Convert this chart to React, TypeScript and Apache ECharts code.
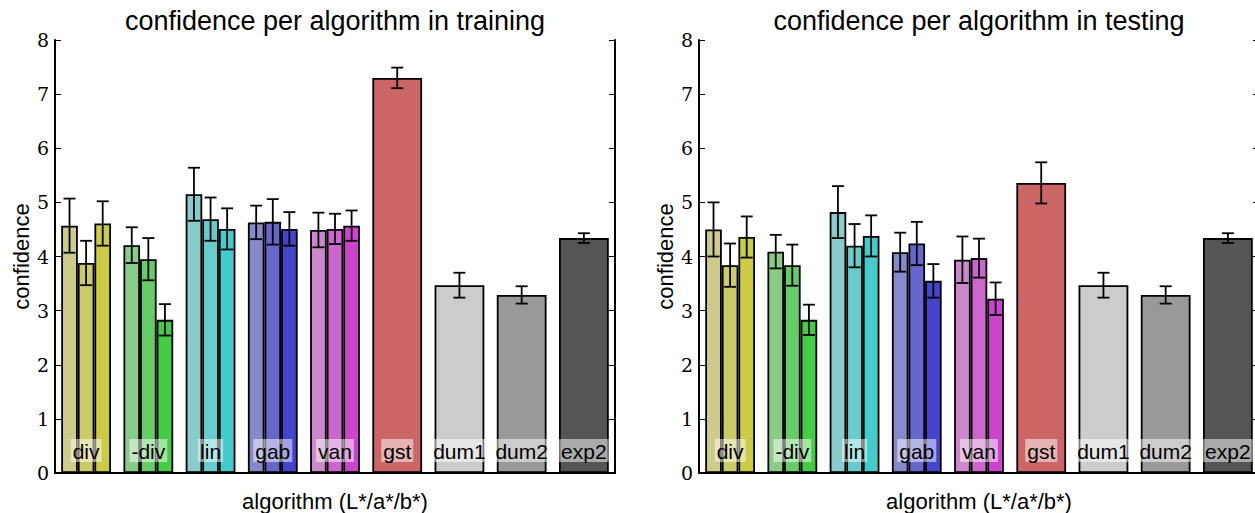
import React, { useEffect, useRef } from "react";
import * as echarts from "echarts";

const categories = ["div", "-div", "lin", "gab", "van", "gst", "dum1", "dum2", "exp2"];
const panelTitles = ["confidence per algorithm in training", "confidence per algorithm in testing"];
const xAxisTitle = "algorithm (L*/a*/b*)";
const yAxisTitle = "confidence";

// training: three shades (L*, a*, b*) for the first five algorithms
const trainFirst = [4.57, 4.21, 5.15, 4.63, 4.49];
const trainSecond = [3.88, 3.95, 4.69, 4.64, 4.51];
const trainThird = [4.61, 2.83, 4.51, 4.51, 4.57];
const trainSingle = [7.3, 3.47, 3.29, 4.34];
const trainFirstErr = [0.5, 0.33, 0.49, 0.31, 0.32];
const trainSecondErr = [0.41, 0.39, 0.4, 0.42, 0.28];
const trainThirdErr = [0.41, 0.29, 0.38, 0.31, 0.28];
const trainSingleErr = [0.19, 0.23, 0.16, 0.09];

// testing
const testFirst = [4.5, 4.09, 4.82, 4.08, 3.94];
const testSecond = [3.84, 3.84, 4.2, 4.24, 3.97];
const testThird = [4.36, 2.83, 4.38, 3.55, 3.22];
const testSingle = [5.36, 3.47, 3.29, 4.34];
const testFirstErr = [0.5, 0.31, 0.48, 0.36, 0.43];
const testSecondErr = [0.4, 0.38, 0.4, 0.4, 0.36];
const testThirdErr = [0.38, 0.28, 0.38, 0.31, 0.3];
const testSingleErr = [0.38, 0.23, 0.16, 0.09];

const shadeColors = [
  ["#cccc88", "#88cc88", "#88cccc", "#8888cc", "#cc88cc"],
  ["#cccc66", "#66cc66", "#66cccc", "#6666cc", "#cc66cc"],
  ["#cccc44", "#44cc44", "#44cccc", "#4444cc", "#cc44cc"],
];
const singleColors = ["#cc6666", "#cccccc", "#999999", "#555555"];

const renderErr = (params: any, api: any) => {
  const cat = api.value(0);
  const v = api.value(1);
  const e = api.value(2);
  const s = api.value(3);
  const n = api.value(4);
  const band = api.size([1, 0])[0];
  const c = api.coord([cat, v]);
  const bw = (band * 0.8) / n;
  const x = c[0] - band * 0.4 + bw * (s + 0.5);
  const yt = api.coord([cat, v + e])[1];
  const yb = api.coord([cat, v - e])[1];
  const cap = 6;
  const style = { stroke: "#000", lineWidth: 1.8 };
  return {
    type: "group",
    children: [
      { type: "line", shape: { x1: x, y1: yt, x2: x, y2: yb }, style },
      { type: "line", shape: { x1: x - cap, y1: yt, x2: x + cap, y2: yt }, style },
      { type: "line", shape: { x1: x - cap, y1: yb, x2: x + cap, y2: yb }, style },
    ],
  };
};

function panelSeries(p: number, groups: number[][], errs: number[][], single: number[], singleErr: number[]) {
  const xa = p * 2;
  const xb = p * 2 + 1;
  const ya = p * 2;
  const series: any[] = [];
  groups.forEach((vals, s) => {
    series.push({
      type: "bar",
      xAxisIndex: xa,
      yAxisIndex: ya,
      barGap: "0%",
      barCategoryGap: "20%",
      z: 2,
      itemStyle: { borderColor: "#000", borderWidth: 1.8 },
      data: categories.map((c, i) =>
        i < vals.length ? { value: vals[i], itemStyle: { color: shadeColors[s][i] } } : "-"
      ),
    });
  });
  const nGrouped = groups[0].length;
  series.push({
    type: "bar",
    xAxisIndex: xb,
    yAxisIndex: ya,
    barCategoryGap: "20%",
    z: 2,
    itemStyle: { borderColor: "#000", borderWidth: 1.8 },
    data: categories.map((c, i) =>
      i >= nGrouped ? { value: single[i - nGrouped], itemStyle: { color: singleColors[i - nGrouped] } } : "-"
    ),
  });
  const errData: number[][] = [];
  groups.forEach((vals, s) => vals.forEach((v, i) => errData.push([i, v, errs[s][i], s, groups.length])));
  single.forEach((v, k) => errData.push([k + nGrouped, v, singleErr[k], 0, 1]));
  series.push({
    type: "custom",
    xAxisIndex: xb,
    yAxisIndex: ya,
    z: 4,
    encode: { x: 0, y: 1 },
    renderItem: renderErr,
    data: errData,
  });
  return series;
}

const gridLefts = [55, 699];
const gridTop = 40;
const gridWidth = 560;
const gridHeight = 433;

export default function App() {
  const ref = useRef<HTMLDivElement>(null);
  useEffect(() => {
    if (!ref.current) return;
    const chart = echarts.init(ref.current, null, { renderer: "svg" });
    const black = "#000";
    const axisLine = { show: true, lineStyle: { color: black, width: 2 } };
    const option: any = {
      animation: false,
      backgroundColor: "#fff",
      grid: gridLefts.map((l) => ({
        left: l,
        top: gridTop,
        width: gridWidth,
        height: gridHeight,
        containLabel: false,
        outerBoundsMode: "none",
      })),
      xAxis: [0, 1].flatMap((p) => [
        {
          gridIndex: p,
          type: "category",
          data: categories,
          position: "bottom",
          z: 10,
          axisLine,
          axisTick: { show: false },
          axisLabel: {
            inside: true,
            interval: 0,
            margin: 11,
            fontFamily: "Liberation Sans",
            fontSize: 21,
            color: black,
            backgroundColor: "rgba(255,255,255,0.5)",
            padding: [1, 2, 0, 2],
            lineHeight: 22,
          },
          name: xAxisTitle,
          nameLocation: "middle",
          nameGap: 17,
          nameTextStyle: { fontFamily: "Liberation Sans", fontSize: 22, color: black },
        },
        {
          gridIndex: p,
          type: "category",
          data: categories,
          position: "top",
          z: 10,
          axisLine,
          axisTick: { show: false },
          axisLabel: { show: false },
        },
      ]),
      yAxis: [0, 1].flatMap((p) => [
        {
          gridIndex: p,
          type: "value",
          min: 0,
          max: 8,
          interval: 1,
          position: "left",
          z: 10,
          axisLine,
          axisTick: { show: true, inside: true, length: 6, lineStyle: { color: black, width: 1 } },
          axisLabel: { fontFamily: "DejaVu Serif", fontSize: 19, color: black, margin: 6 },
          splitLine: { show: false },
          name: yAxisTitle,
          nameLocation: "middle",
          nameGap: 23,
          nameTextStyle: { fontFamily: "Liberation Sans", fontSize: 22, color: black },
        },
        {
          gridIndex: p,
          type: "value",
          min: 0,
          max: 8,
          interval: 1,
          position: "right",
          z: 10,
          axisLine,
          axisTick: { show: true, inside: true, length: 6, lineStyle: { color: black, width: 1 } },
          axisLabel: { show: false },
          splitLine: { show: false },
        },
      ]),
      graphic: panelTitles.map((t, p) => ({
        type: "text",
        x: gridLefts[p] + gridWidth / 2,
        y: 21,
        style: {
          text: t,
          font: '27px "Liberation Sans"',
          fill: black,
          align: "center",
          verticalAlign: "middle",
        },
      })),
      series: [
        ...panelSeries(0, [trainFirst, trainSecond, trainThird], [trainFirstErr, trainSecondErr, trainThirdErr], trainSingle, trainSingleErr),
        ...panelSeries(1, [testFirst, testSecond, testThird], [testFirstErr, testSecondErr, testThirdErr], testSingle, testSingleErr),
      ],
    };
    chart.setOption(option);
    return () => chart.dispose();
  }, []);
  return (
    <div
      ref={ref}
      style={{ position: "absolute", left: 0, top: 0, width: 1255, height: 513, background: "#fff" }}
    />
  );
}
